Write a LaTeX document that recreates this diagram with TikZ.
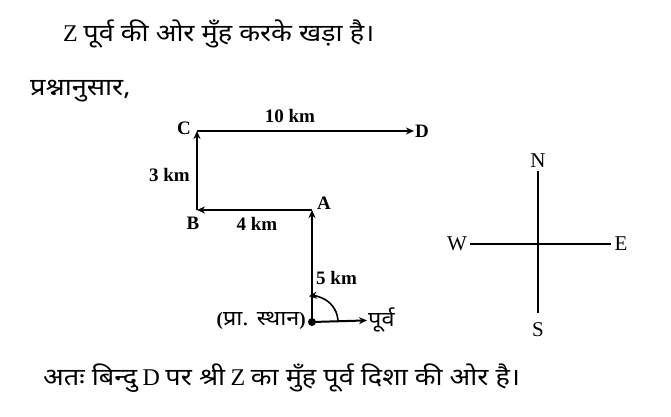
\documentclass[tikz,border=0pt]{standalone}
\usepackage{fontspec}
\setmainfont{Liberation Serif}
\newfontfamily\devfont[Script=Devanagari,Scale=1.1,FakeStretch=1.12]{Noto Sans}
\newcommand\hi[1]{{\devfont #1}}
\newcommand\lat[1]{{\fontsize{24}{24}\selectfont #1}}
\usetikzlibrary{arrows.meta}

\begin{document}
\begin{tikzpicture}[x=1pt,y=-1pt,
  walk/.style={line width=2pt,-{Stealth[length=8pt,width=7pt]}},
  axis/.style={line width=2pt},
  lbl/.style={font=\bfseries\fontsize{19}{19}\selectfont,inner sep=1pt},
  dir/.style={font=\fontsize{21}{21}\selectfont,inner sep=3pt},
  txtline/.style={font=\fontsize{22}{22}\selectfont,anchor=base west,inner sep=0pt}]
\useasboundingbox (0,0) rectangle (671,416);
% text above and below
\node[txtline] (head) at (63,41) {\lat{Z} \hi{पूर्व की ओर मुँह करके खड़ा है।}};
\node[txtline] (intro) at (30,95) {\hi{प्रश्नानुसार,}};
\node[txtline] (concl) at (43,385) {\hi{अतः बिन्दु} \lat{D} \hi{पर श्री} \lat{Z} \hi{का मुँह पूर्व दिशा की ओर है।}};
% the walk
\coordinate (O) at (312,322);
\coordinate (A) at (312,210);
\coordinate (B) at (197,210);
\coordinate (C) at (197,131);
\node[lbl] (Dl) at (422,131) {D};
\node[lbl,anchor=west] (purv) at (367,320) {\hi{पूर्व}};
\node[lbl] (Cl) at (184,128) {C};
\node[lbl] (Bl) at (193,223) {B};
\node[lbl] (Al) at (324,203) {A};
\node[lbl] (dCD) at (290,116) {10 km};
\node[lbl,anchor=east] (dBC) at (191,175) {3 km};
\node[lbl] (dAB) at (257,224) {4 km};
\node[lbl,anchor=west] (dOA) at (315,278) {5 km};
\node[lbl,anchor=east] (start) at (307,321) {(\hi{प्रा. स्थान})};
\draw[walk] (O) -- (A);
\draw[walk] (A) -- (B);
\draw[walk] (B) -- (C);
\draw[walk] (C) -- (Dl);
\draw[walk] (O) -- (purv);
\draw[walk,line width=1.6pt] (O) ++(26,0) arc[start angle=0,end angle=-97,radius=26];
\fill (O) circle (4);
% compass
\node[dir] (N) at (538,161) {N};
\node[dir] (S) at (538,330) {S};
\node[dir] (W) at (457,244) {W};
\node[dir] (E) at (621,244) {E};
\draw[axis,shorten >=7pt] (N) -- (S);
\draw[axis] (W) -- (E);
\end{tikzpicture}
\end{document}
